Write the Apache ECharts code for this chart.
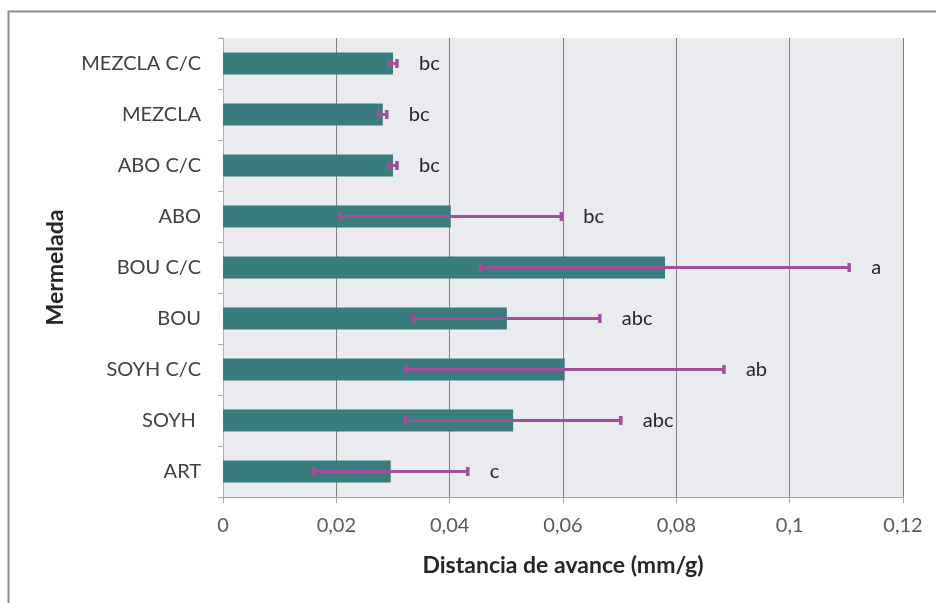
<!DOCTYPE html>
<html>
<head>
<meta charset="utf-8">
<script src="https://cdn.jsdelivr.net/npm/echarts@6/dist/echarts.min.js"></script>
<style>
  html, body { margin: 0; padding: 0; background: #ffffff; }
  #chart { width: 936px; height: 603px; }
</style>
</head>
<body>
<div id="chart"></div>
<script>
// Mermelada samples, top to bottom
const categories = ['MEZCLA C/C', 'MEZCLA', 'ABO C/C', 'ABO', 'BOU C/C', 'BOU', 'SOYH C/C', 'SOYH ', 'ART'];
// Mean advance distance (mm/g)
const means = [0.0300, 0.0282, 0.0300, 0.0402, 0.0780, 0.0501, 0.0603, 0.0512, 0.0296];
// Standard deviation for each mean
const errors = [0.0007, 0.0007, 0.0007, 0.0195, 0.0325, 0.0164, 0.0281, 0.0190, 0.0136];
// Significance groups
const letters = ['bc', 'bc', 'bc', 'bc', 'a', 'abc', 'ab', 'abc', 'c'];
// Axis ticks
const xTicks = [0, 0.02, 0.04, 0.06, 0.08, 0.1, 0.12];

const FONT = 'Lato, "Open Sans", sans-serif';
const errColor = '#a24f9b';

const errorData = categories.map((c, i) => [i, means[i] - errors[i], means[i] + errors[i], letters[i]]);

const chart = echarts.init(document.getElementById('chart'), null, { renderer: 'canvas' });

chart.setOption({
  backgroundColor: '#ffffff',
  animation: false,
  textStyle: { fontFamily: FONT },
  graphic: [{
    type: 'rect',
    shape: { x: 8.5, y: 11.5, width: 1000, height: 700 },
    style: { fill: 'none', stroke: '#8e8e8e', lineWidth: 2 },
    z: -1
  }],
  grid: {
    left: 223, right: 33, top: 38, bottom: 106,
    show: true, backgroundColor: '#e9ebee', borderWidth: 0
  },
  xAxis: {
    type: 'value',
    min: xTicks[0], max: xTicks[xTicks.length - 1], interval: 0.02,
    name: 'Distancia de avance (mm/g)',
    nameLocation: 'middle',
    nameGap: 57,
    nameTextStyle: { fontFamily: FONT, fontWeight: 'bold', fontSize: 23, color: '#262626' },
    axisLine: { show: true, lineStyle: { color: '#a6a6a6', width: 1 } },
    axisTick: { show: true, length: 6, lineStyle: { color: '#a6a6a6' } },
    axisLabel: {
      margin: 19, fontSize: 20, color: '#595959', fontFamily: FONT,
      formatter: v => String(+v.toFixed(2)).replace('.', ',')
    },
    splitLine: { show: true, lineStyle: { color: '#7f7f7f', width: 1 } }
  },
  yAxis: {
    type: 'category',
    inverse: true,
    data: categories,
    name: 'Mermelada',
    nameLocation: 'middle',
    nameRotate: 90,
    nameGap: 156,
    nameTextStyle: { fontFamily: FONT, fontWeight: 'bold', fontSize: 23, color: '#262626' },
    axisLine: { show: true, lineStyle: { color: '#b0b0b0', width: 1 } },
    axisTick: { show: true, length: 5, alignWithLabel: false, lineStyle: { color: '#a6a6a6' } },
    axisLabel: { margin: 22, fontSize: 20, color: '#404040', fontFamily: FONT },
    splitLine: { show: false }
  },
  series: [
    {
      type: 'bar',
      data: means,
      barWidth: 22,
      itemStyle: { color: '#3a7b7e' },
      z: 2
    },
    {
      type: 'custom',
      data: errorData,
      encode: { x: [1, 2], y: 0 },
      z: 3,
      renderItem: function (params, api) {
        const idx = api.value(0);
        const lo = api.coord([api.value(1), idx]);
        const hi = api.coord([api.value(2), idx]);
        const capH = 4.5;
        const st = { stroke: errColor, lineWidth: 3 };
        const capSt = { stroke: errColor, lineWidth: 3.5 };
        return {
          type: 'group',
          children: [
            { type: 'line', shape: { x1: lo[0], y1: lo[1], x2: hi[0], y2: hi[1] }, style: st },
            { type: 'line', shape: { x1: lo[0], y1: lo[1] - capH, x2: lo[0], y2: lo[1] + capH }, style: capSt },
            { type: 'line', shape: { x1: hi[0], y1: hi[1] - capH, x2: hi[0], y2: hi[1] + capH }, style: capSt },
            {
              type: 'text',
              style: {
                x: hi[0] + 22, y: hi[1],
                text: letters[idx],
                fill: '#262626',
                font: '20px ' + FONT,
                verticalAlign: 'middle'
              }
            }
          ]
        };
      }
    }
  ]
});
</script>
</body>
</html>
